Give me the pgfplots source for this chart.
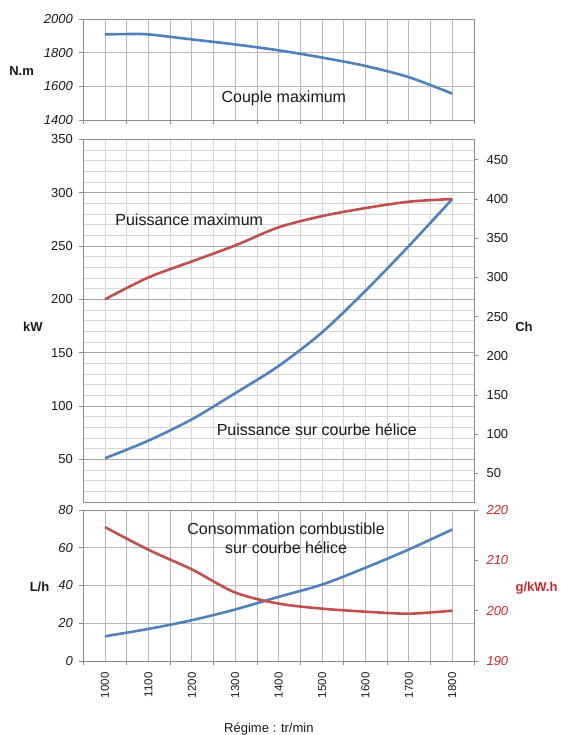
\documentclass[border=0pt]{standalone}
\usepackage{fontspec}
\setmainfont{Liberation Sans}
\usepackage{pgfplots}
\pgfplotsset{compat=1.18}

\definecolor{xlblue}{RGB}{79,129,189}
\definecolor{xlred}{RGB}{192,80,77}
\definecolor{lblred}{RGB}{200,40,48}
\definecolor{hminor}{RGB}{214,214,214}
\definecolor{hmajor}{RGB}{166,166,166}
\definecolor{hgrid}{RGB}{184,184,184}
\definecolor{axgray}{RGB}{140,140,140}
\definecolor{txt}{RGB}{25,25,25}

\newcommand{\tickfont}{\fontsize{13}{15}\selectfont}
\newcommand{\lblfont}{\bfseries\fontsize{13}{15}\selectfont}
\newcommand{\notefont}{\fontsize{16}{19}\selectfont}

\pgfplotsset{
  base/.style={
    scale only axis, width=390.7pt,
    xmin=950, xmax=1850,
    axis line style={axgray, line width=0.8pt},
    tick style={axgray, line width=0.8pt},
    tick align=outside, major tick length=4pt, minor tick length=0pt,
    tick pos=left,
    grid style={line width=0.8pt},
    /pgf/number format/assume math mode=true,
    /pgf/number format/1000 sep={},
    scaled ticks=false,
    ticklabel style={font=\tickfont, text=txt},
    yticklabel style={xshift=-3pt},
  },
  curve/.style={line width=2.6pt, smooth},
}

\begin{document}
\begin{tikzpicture}
\path[use as bounding box] (0,0) rectangle (561pt,735pt);

% --- couple maximum ---
\begin{axis}[base, at={(83.3pt,615pt)}, anchor=south west, height=100.7pt,
  ymin=1400, ymax=2000, ytick={1400,1600,1800,2000},
  xtick={950,1050,...,1850}, xticklabels={},
  minor xtick={1000,1100,...,1800},
  xmajorgrids, xminorgrids, ymajorgrids,
  major grid style={hgrid}, minor grid style={hgrid},
  yticklabel style={font=\tickfont\itshape},
  ylabel={N.m}, ylabel style={rotate=-90, font=\lblfont, text=txt,
    at={(axis description cs:-0.158,0.49)}, anchor=center},
]
\addplot[curve, xlblue] coordinates {
  (1000,1910) (1050,1912) (1100,1910) (1200,1880) (1300,1850)
  (1400,1815) (1500,1772) (1600,1722) (1700,1655) (1800,1557)
};
\node[font=\notefont, text=txt] at (axis cs:1412,1530) {Couple maximum};
\end{axis}

% --- puissance: light grid every 10 kW and 50 tr/min ---
\begin{axis}[base, at={(83.3pt,233pt)}, anchor=south west, height=362.7pt,
  ymin=10, ymax=350, ytick={10,20,...,350}, yticklabels={},
  xtick={950,1000,...,1850}, xticklabels={},
  major tick length=0pt, grid=major, major grid style={hminor},
]
\end{axis}

% --- puissance, kW ---
\begin{axis}[base, at={(83.3pt,233pt)}, anchor=south west, height=362.7pt,
  ymin=10, ymax=350, ytick={50,100,...,350},
  xtick=\empty,
  ymajorgrids, major grid style={hmajor},
  ylabel={kW}, ylabel style={rotate=-90, font=\lblfont, text=txt,
    at={(axis description cs:-0.129,0.4825)}, anchor=center},
]
\addplot[curve, xlblue] coordinates {
  (1000,51) (1100,67.5) (1200,87.5) (1300,112) (1400,137.5)
  (1500,169) (1600,208) (1700,250) (1800,294)
};
\addplot[curve, xlred] coordinates {
  (1000,200) (1100,220.5) (1200,235.5) (1300,250.5) (1400,267.5)
  (1500,278) (1600,285.5) (1700,291.5) (1800,294)
};
\node[font=\notefont, text=txt] at (axis cs:1194,275) {Puissance maximum};
\node[font=\notefont, text=txt] at (axis cs:1488,77.5) {Puissance sur courbe hélice};
\end{axis}

% --- puissance, Ch ---
\begin{axis}[base, at={(83.3pt,233pt)}, anchor=south west, height=362.7pt,
  ymin=13.6, ymax=476, ytick={50,100,...,450},
  axis y line*=right, axis x line=none, ytick pos=right,
  yticklabel style={xshift=8pt},
  ylabel={Ch}, ylabel style={rotate=-90, font=\lblfont, text=txt,
    at={(axis description cs:1.128,0.4825)}, anchor=center},
]
\end{axis}

% --- consommation, L/h ---
\begin{axis}[base, at={(83.3pt,74pt)}, anchor=south west, height=151pt,
  ymin=0, ymax=80, ytick={0,20,...,80},
  xtick={950,1050,...,1850}, xticklabels={},
  minor xtick={1000,1100,...,1800},
  extra x ticks={1000,1100,...,1800},
  extra x tick labels={1000,1100,1200,1300,1400,1500,1600,1700,1800},
  extra x tick style={major tick length=0pt, tick style={draw=none}},
  xticklabel style={rotate=90, anchor=east, font=\fontsize{11.5}{13}\selectfont, xshift=-8pt},
  xmajorgrids, xminorgrids, ymajorgrids,
  major grid style={hgrid}, minor grid style={hgrid},
  yticklabel style={font=\tickfont\itshape},
  ylabel={L/h}, ylabel style={rotate=-90, font=\lblfont, text=txt,
    at={(axis description cs:-0.112,0.492)}, anchor=center},
  xlabel={Régime : tr/min}, xlabel style={font=\fontsize{13}{15}\selectfont, text=txt,
    at={(axis description cs:0.475,-0.45)}, anchor=center},
]
\addplot[curve, xlblue] coordinates {
  (1000,13.1) (1100,17) (1200,21.6) (1300,27.3) (1400,34)
  (1500,40.5) (1600,49.4) (1700,59.1) (1800,69.7)
};
\node[font=\notefont, text=txt, align=center] at (axis cs:1417,65)
  {Consommation combustible\\sur courbe hélice};
\end{axis}

% --- consommation, g/kW.h ---
\begin{axis}[base, at={(83.3pt,74pt)}, anchor=south west, height=151pt,
  ymin=190, ymax=220, ytick={190,200,210,220},
  axis y line*=right, axis x line=none, ytick pos=right,
  yticklabel style={xshift=8pt, font=\tickfont\itshape, text=lblred},
  ylabel={g/kW.h}, ylabel style={rotate=-90, font=\lblfont, text=lblred,
    at={(axis description cs:1.16,0.485)}, anchor=center},
]
\addplot[curve, xlred] coordinates {
  (1000,216.6) (1100,212.1) (1200,208.2) (1300,203.6) (1400,201.4)
  (1500,200.4) (1600,199.8) (1700,199.4) (1800,200.0)
};
\end{axis}
\end{tikzpicture}
\end{document}
